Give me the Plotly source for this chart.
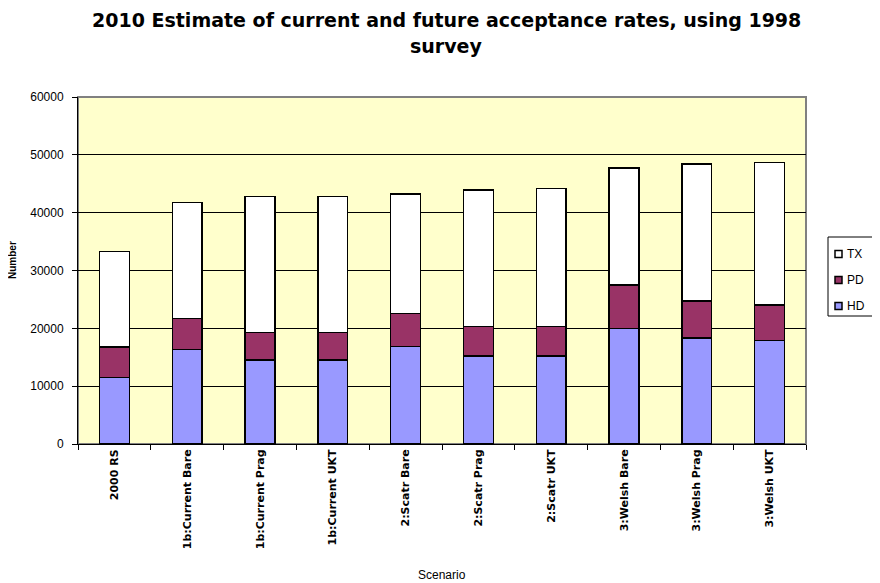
import plotly.graph_objects as go

categories = ["2000 RS", "1b:Current Bare", "1b:Current Prag", "1b:Current UKT",
              "2:Scatr Bare", "2:Scatr Prag", "2:Scatr UKT",
              "3:Welsh Bare", "3:Welsh Prag", "3:Welsh UKT"]
hd = [11500, 16300, 14500, 14500, 16900, 15200, 15200, 20000, 18300, 17900]
pd_ = [5300, 5400, 4800, 4800, 5700, 5100, 5100, 7500, 6400, 6100]
tx = [16500, 20100, 23500, 23500, 20600, 23600, 23900, 20200, 23700, 24700]
y_ticks = [0, 10000, 20000, 30000, 40000, 50000, 60000]
title_lines = ["2010 Estimate of current and future acceptance rates, using 1998", "survey"]
series_names = ["HD", "PD", "TX"]
series_colors = ["#9999FF", "#993366", "#FFFFFF"]

FONT = "Liberation Sans, Arial, sans-serif"
TFONT = "DejaVu Sans, sans-serif"
line = dict(color="black", width=1.5)

# plot area in screen pixels (page has an 8px body offset)
PL, PR, PT, PB = 78, 806, 97, 444
OFF = 8

fig = go.Figure()
for name, vals, col in zip(series_names, [hd, pd_, tx], series_colors):
    fig.add_trace(go.Bar(name=name, x=categories, y=vals, showlegend=False,
                         marker=dict(color=col, line=line)))

fig.update_layout(
    width=880, height=583,
    barmode="stack", bargap=0.59,
    paper_bgcolor="white", plot_bgcolor="#FFFFCC",
    margin=dict(l=PL - OFF, r=880 - (PR - OFF), t=PT - OFF, b=583 - (PB - OFF), autoexpand=False),
    font=dict(family=FONT, color="black"),
    showlegend=False,
    xaxis=dict(
        tickangle=-90, tickfont=dict(size=11, family=TFONT, weight="bold"),
        showline=True, linecolor="black", linewidth=1,
        ticks="outside", ticklen=5, tickcolor="black", tickson="boundaries",
        showgrid=False, automargin=False,
    ),
    yaxis=dict(
        range=[0, 60000], tickvals=y_ticks, tickformat="d",
        tickfont=dict(size=12, family=FONT), ticklabelstandoff=6,
        showline=True, linecolor="black", linewidth=1,
        ticks="outside", ticklen=5, tickcolor="black",
        showgrid=True, gridcolor="black", gridwidth=1,
        zeroline=False, automargin=False,
    ),
)

def px(x):
    return (x - PL) / float(PR - PL)

def py(y):
    return (PB - y) / float(PB - PT)

# title
fig.add_annotation(text="<b>%s</b>" % title_lines[0], xref="paper", yref="paper",
                   x=px(446), y=py(20), xanchor="center", yanchor="middle", showarrow=False,
                   font=dict(size=19, family=TFONT, color="black"))
fig.add_annotation(text="<b>%s</b>" % title_lines[1], xref="paper", yref="paper",
                   x=px(446), y=py(46), xanchor="center", yanchor="middle", showarrow=False,
                   font=dict(size=19, family=TFONT, color="black"))
# axis titles
fig.add_annotation(text="Scenario", xref="paper", yref="paper", x=px(442), y=py(575),
                   xanchor="center", yanchor="middle", showarrow=False,
                   font=dict(size=12, family=FONT, color="black"))
fig.add_annotation(text="<b>Number</b>", xref="paper", yref="paper", x=px(12), y=py(260),
                   xanchor="center", yanchor="middle", showarrow=False, textangle=-90,
                   font=dict(size=10, family=FONT, color="black"))

# plot area border
fig.add_shape(type="rect", xref="paper", yref="paper", x0=0, y0=0, x1=1, y1=1,
              line=dict(color="#808080", width=2), layer="below")

# legend (TX, PD, HD top to bottom)
fig.add_shape(type="rect", xref="paper", yref="paper", x0=px(828), x1=px(875),
              y0=py(316), y1=py(237), line=dict(color="black", width=1), fillcolor="white")
legend_y = [306, 280, 254]
for name, col, ly in zip(series_names, series_colors, legend_y):
    fig.add_shape(type="rect", xref="paper", yref="paper", x0=px(835), x1=px(842),
                  y0=py(ly + 3.5), y1=py(ly - 3.5),
                  line=dict(color="black", width=1.5), fillcolor=col)
    fig.add_annotation(text=name, xref="paper", yref="paper", x=px(845), y=py(ly),
                       xanchor="left", yanchor="middle", showarrow=False,
                       font=dict(size=12, family=FONT, color="black"))

fig.write_html("out.html")
